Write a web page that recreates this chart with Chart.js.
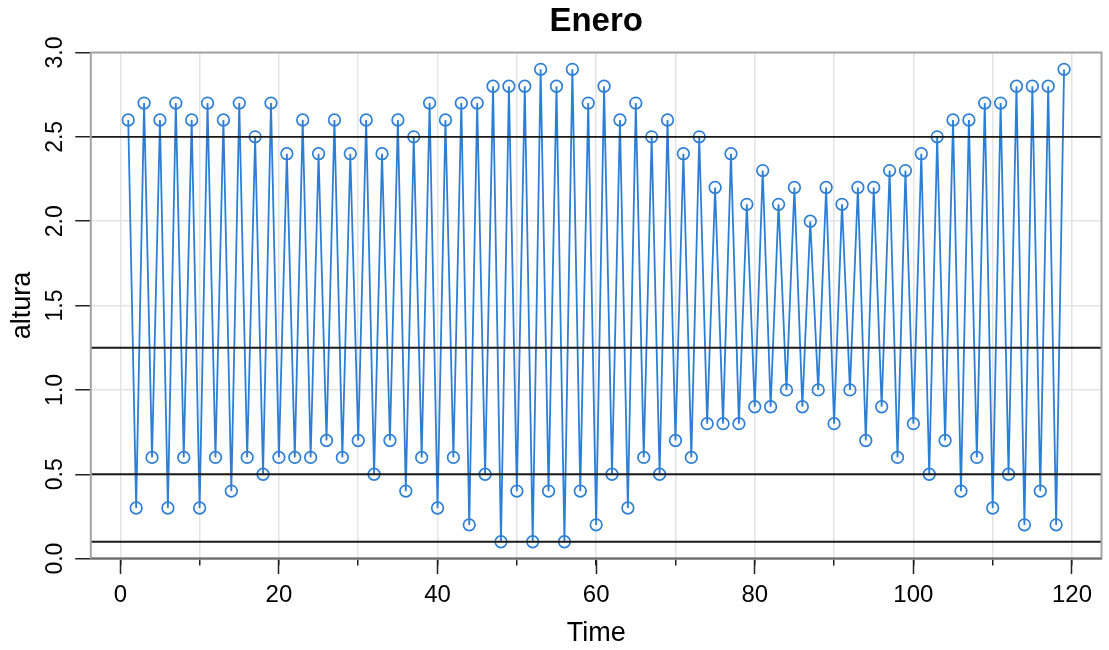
<!DOCTYPE html>
<html>
<head>
<meta charset="utf-8">
<title>Enero</title>
<script src="https://cdn.jsdelivr.net/npm/chart.js@4/dist/chart.umd.min.js"></script>
<style>
  html, body { margin: 0; padding: 0; background: #ffffff; }
  #wrap { width: 1109px; height: 650px; }
</style>
</head>
<body>
<div id="wrap"><canvas id="chart" width="1109" height="650"></canvas></div>
<script>
// Monthly series: tide height ("altura") for January, one reading per time step
const startTime = 1;
const altura = [
  2.6, 0.3, 2.7, 0.6, 2.6, 0.3, 2.7, 0.6, 2.6, 0.3,
  2.7, 0.6, 2.6, 0.4, 2.7, 0.6, 2.5, 0.5, 2.7, 0.6,
  2.4, 0.6, 2.6, 0.6, 2.4, 0.7, 2.6, 0.6, 2.4, 0.7,
  2.6, 0.5, 2.4, 0.7, 2.6, 0.4, 2.5, 0.6, 2.7, 0.3,
  2.6, 0.6, 2.7, 0.2, 2.7, 0.5, 2.8, 0.1, 2.8, 0.4,
  2.8, 0.1, 2.9, 0.4, 2.8, 0.1, 2.9, 0.4, 2.7, 0.2,
  2.8, 0.5, 2.6, 0.3, 2.7, 0.6, 2.5, 0.5, 2.6, 0.7,
  2.4, 0.6, 2.5, 0.8, 2.2, 0.8, 2.4, 0.8, 2.1, 0.9,
  2.3, 0.9, 2.1, 1.0, 2.2, 0.9, 2.0, 1.0, 2.2, 0.8,
  2.1, 1.0, 2.2, 0.7, 2.2, 0.9, 2.3, 0.6, 2.3, 0.8,
  2.4, 0.5, 2.5, 0.7, 2.6, 0.4, 2.6, 0.6, 2.7, 0.3,
  2.7, 0.5, 2.8, 0.2, 2.8, 0.4, 2.8, 0.2, 2.9
];
const time = altura.map((_, i) => startTime + i);

// Reference levels drawn across the plot
const referenceLevels = [2.5, 1.25, 0.5, 0.1];

// Axis ticks
const xMajorTicks = [0, 20, 40, 60, 80, 100, 120];
const xMinorTicks = [0, 10, 20, 30, 40, 50, 60, 70, 80, 90, 100, 110, 120];
const yTicks = [0.0, 0.5, 1.0, 1.5, 2.0, 2.5, 3.0];

const FONT = "'Liberation Sans', Arial, Helvetica, sans-serif";
const SERIES_COLOR = '#2d7fd6';

// Axis ranges padded like a classic time-series plot (4% on x)
const xPad = (time[time.length - 1] - time[0]) * 0.04;
const xMin = time[0] - xPad;
const xMax = time[time.length - 1] + xPad;

const points = time.map((t, i) => ({ x: t, y: altura[i] }));

const setTicks = (values) => (scale) => {
  scale.ticks = values.map(v => ({ value: v }));
};

// Horizontal reference lines and the plot frame
const overlay = {
  id: 'overlay',
  afterDatasetsDraw(chart) {
    const { ctx, chartArea: a, scales: { y } } = chart;
    ctx.save();
    ctx.strokeStyle = '#1a1a1a';
    ctx.lineWidth = 1.8;
    referenceLevels.forEach(v => {
      const py = y.getPixelForValue(v);
      ctx.beginPath();
      ctx.moveTo(a.left, py);
      ctx.lineTo(a.right, py);
      ctx.stroke();
    });
    ctx.restore();
  },
  afterDraw(chart) {
    const { ctx, chartArea: a } = chart;
    ctx.save();
    ctx.strokeStyle = '#a3a3a3';
    ctx.lineWidth = 2;
    ctx.strokeRect(a.left, a.top, a.right - a.left, a.bottom - a.top);
    ctx.strokeStyle = '#6a6a6a';
    ctx.beginPath();
    ctx.moveTo(a.left, a.bottom);
    ctx.lineTo(a.right, a.bottom);
    ctx.stroke();
    ctx.restore();
  }
};

new Chart(document.getElementById('chart'), {
  type: 'line',
  data: {
    datasets: [{
      label: 'altura',
      data: points,
      borderColor: SERIES_COLOR,
      borderWidth: 1.8,
      tension: 0,
      fill: false,
      pointRadius: 5.8,
      pointBorderWidth: 1.7,
      pointBorderColor: SERIES_COLOR,
      pointBackgroundColor: 'rgba(0,0,0,0)',
      pointHoverRadius: 5.8
    }]
  },
  options: {
    responsive: false,
    maintainAspectRatio: false,
    animation: false,
    devicePixelRatio: 1,
    layout: { padding: { left: 0, right: 1.2, top: 0, bottom: 0 } },
    plugins: {
      legend: { display: false },
      tooltip: { enabled: false },
      title: {
        display: true,
        text: 'Enero',
        fullSize: false,
        color: '#000',
        font: { family: FONT, size: 33, weight: 'bold', lineHeight: 1.2 },
        padding: { top: 2.2, bottom: 10.7 }
      }
    },
    scales: {
      xMinor: {
        type: 'linear',
        axis: 'x',
        position: 'bottom',
        weight: 0,
        min: xMin,
        max: xMax,
        afterBuildTicks: setTicks(xMinorTicks),
        afterFit: (s) => { s.height = 0; },
        ticks: { display: false },
        border: { display: false },
        grid: {
          display: true,
          drawOnChartArea: true,
          color: '#e4e4e4',
          lineWidth: 1.5,
          drawTicks: true,
          tickLength: 7,
          tickColor: '#222',
          tickWidth: 1.5
        }
      },
      x: {
        type: 'linear',
        position: 'bottom',
        weight: 1,
        min: xMin,
        max: xMax,
        afterBuildTicks: setTicks(xMajorTicks),
        afterFit: (s) => { s.height = 650 - 558.6; },
        border: { display: false },
        grid: {
          display: true,
          drawOnChartArea: false,
          color: 'rgba(0,0,0,0)',
          drawTicks: true,
          tickLength: 15.5,
          tickColor: '#222',
          tickWidth: 1.5
        },
        ticks: {
          color: '#000',
          padding: 7,
          maxRotation: 0,
          autoSkip: false,
          font: { family: FONT, size: 24 },
          callback: (v) => String(v)
        },
        title: {
          display: true,
          text: 'Time',
          color: '#000',
          font: { family: FONT, size: 27, lineHeight: 1.2 },
          padding: { top: 0, bottom: 0.5 }
        }
      },
      y: {
        type: 'linear',
        position: 'left',
        min: 0,
        max: 3,
        afterBuildTicks: setTicks(yTicks),
        afterFit: (s) => { s.width = 90.8; },
        border: { display: false },
        grid: {
          display: true,
          drawOnChartArea: true,
          color: '#e4e4e4',
          lineWidth: 1.5,
          drawTicks: true,
          tickLength: 15.5,
          tickColor: '#222',
          tickWidth: 1.5
        },
        ticks: {
          color: '#000',
          padding: 3.3,
          minRotation: 90,
          maxRotation: 90,
          crossAlign: 'center',
          autoSkip: false,
          font: { family: FONT, size: 23 },
          callback: (v) => Number(v).toFixed(1)
        },
        title: {
          display: true,
          text: 'altura',
          color: '#000',
          font: { family: FONT, size: 27, lineHeight: 1.2 },
          padding: { top: 6.1, bottom: 0 }
        }
      }
    }
  },
  plugins: [overlay]
});
</script>
</body>
</html>
